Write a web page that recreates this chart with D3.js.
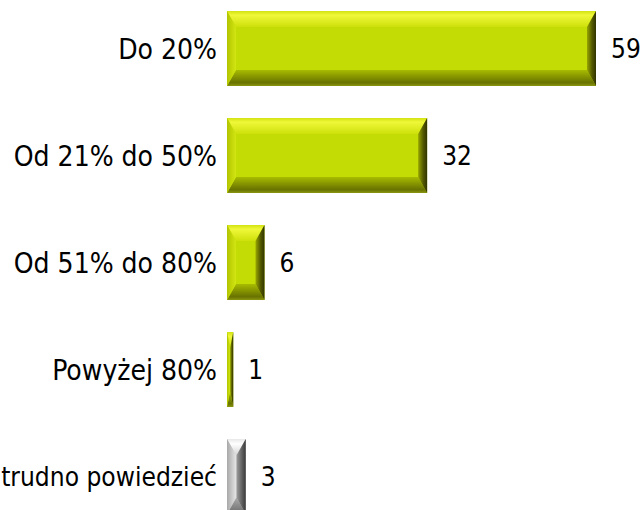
<!DOCTYPE html>
<html>
<head>
<meta charset="utf-8">
<script src="https://cdn.jsdelivr.net/npm/d3@7"></script>
<style>
  html, body { margin: 0; padding: 0; background: #ffffff; }
  svg { display: block; }
  text { font-family: "DejaVu Sans Condensed", "DejaVu Sans", Verdana, sans-serif; fill: #000; }
</style>
</head>
<body>
<svg id="chart" width="642" height="510"></svg>
<script>
const categories = ["Do 20%", "Od 21% do 50%", "Od 51% do 80%", "Powyżej 80%", "trudno powiedzieć"];
const values = [59, 32, 6, 1, 3];
const palettes = ["green", "green", "green", "green", "grey"];

const W = 642, H = 510;
const svg = d3.select("#chart");

const x = d3.scaleLinear().domain([0, 59]).range([227, 596]);
const y = d3.scaleBand().domain(categories).range([-5, 530]).paddingInner(0.3).paddingOuter(0.15);

const defs = svg.append("defs");
const themes = {
  green: {
    face: "#c3dc05",
    top: [["0%", "#d2e210"], ["25%", "#f0f83a"], ["100%", "#cde00a"]],
    left: [["0%", "#b2c400"], ["100%", "#d2e612"]],
    right: [["0%", "#98a600"], ["55%", "#545a00"], ["100%", "#303300"]],
    bottom: [["0%", "#a8bc00"], ["80%", "#687200"], ["100%", "#8a9610"]]
  },
  grey: {
    face: "#c6c6c6",
    top: [["0%", "#e8e8e8"], ["30%", "#ffffff"], ["100%", "#d4d4d4"]],
    left: [["0%", "#a8a8a8"], ["100%", "#e4e4e4"]],
    right: [["0%", "#9a9a9a"], ["60%", "#5e5e5e"], ["100%", "#3a3a3a"]],
    bottom: [["0%", "#a8a8a8"], ["100%", "#6a6a6a"]]
  }
};
const dirs = {
  top: [0, 0, 0, 1],
  bottom: [0, 0, 0, 1],
  left: [0, 0, 1, 0],
  right: [0, 0, 1, 0]
};
Object.entries(themes).forEach(([name, t]) => {
  ["top", "left", "right", "bottom"].forEach(side => {
    const d = dirs[side];
    const g = defs.append("linearGradient").attr("id", `g-${name}-${side}`)
      .attr("x1", d[0]).attr("y1", d[1]).attr("x2", d[2]).attr("y2", d[3]);
    t[side].forEach(([o, c]) => g.append("stop").attr("offset", o).attr("stop-color", c));
  });
});

const data = categories.map((c, i) => ({ cat: c, v: values[i], theme: palettes[i] }));

const bars = svg.append("g").selectAll("g").data(data).join("g");

bars.each(function(d) {
  const g = d3.select(this);
  const x0 = x(0), x1 = x(d.v);
  const y0 = y(d.cat), h = y.bandwidth(), y1 = y0 + h;
  const w = x1 - x0;
  const bx = Math.min(9, w / 2), by = Math.min(16, h / 2);
  const t = themes[d.theme];
  g.append("rect").attr("x", x0).attr("y", y0).attr("width", w).attr("height", h).attr("fill", t.face);
  const pts = {
    top: [[x0, y0], [x1, y0], [x1 - bx, y0 + by], [x0 + bx, y0 + by]],
    bottom: [[x0 + bx, y1 - by], [x1 - bx, y1 - by], [x1, y1], [x0, y1]],
    left: [[x0, y0], [x0 + bx, y0 + by], [x0 + bx, y1 - by], [x0, y1]],
    right: [[x1 - bx, y0 + by], [x1, y0], [x1, y1], [x1 - bx, y1 - by]]
  };
  ["top", "bottom", "left", "right"].forEach(side => {
    g.append("polygon")
      .attr("points", pts[side].map(p => p.join(",")).join(" "))
      .attr("fill", `url(#g-${d.theme}-${side})`);
  });
});

// category labels (shrunk only if they would run past the left edge)
const labelX = x(0) - 10;
svg.append("g").selectAll("text").data(data).join("text")
  .attr("x", labelX)
  .attr("y", d => y(d.cat) + y.bandwidth() / 2)
  .attr("dy", "0.36em")
  .attr("text-anchor", "end")
  .attr("font-size", 28)
  .text(d => d.cat)
  .each(function() {
    const wText = this.getComputedTextLength();
    const avail = labelX - 1;
    if (wText > avail) d3.select(this).attr("font-size", 28 * avail / wText);
  });

// value labels
svg.append("g").selectAll("text").data(data).join("text")
  .attr("x", d => x(d.v) + 15)
  .attr("y", d => y(d.cat) + y.bandwidth() / 2)
  .attr("dy", "0.36em")
  .attr("text-anchor", "start")
  .attr("font-size", 26)
  .text(d => d.v);
</script>
</body>
</html>
